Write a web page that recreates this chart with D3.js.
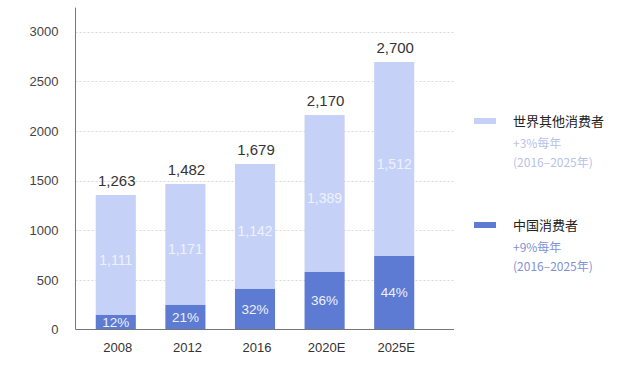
<!DOCTYPE html>
<html><head><meta charset="utf-8">
<script src="https://cdn.jsdelivr.net/npm/d3@7"></script>
<style>
html,body{margin:0;padding:0;background:#fff;}
svg{display:block;font-family:"Liberation Sans",Arial,"Noto Sans CJK SC",sans-serif;}
</style></head>
<body>
<svg id="c" width="640" height="376"></svg>
<script>
// Data
const categories = ["2008", "2012", "2016", "2020E", "2025E"];
// bar heights as drawn in the picture
const chinaValues = [146, 247, 408, 579, 740];
const restValues = [1208, 1218, 1258, 1580, 1953];
// printed labels
const totalLabels = ["1,263", "1,482", "1,679", "2,170", "2,700"];
const restLabels = ["1,111", "1,171", "1,142", "1,389", "1,512"];
const shareLabels = ["12%", "21%", "32%", "36%", "44%"];
const yTicks = [0, 500, 1000, 1500, 2000, 2500, 3000];
const legendItems = [
  {name: "世界其他消费者", growth: "+3%每年", period: "(2016–2025年)"},
  {name: "中国消费者", growth: "+9%每年", period: "(2016–2025年)"}
];

const colRest = "#c6d1f7", colChina = "#5d7bd2";
const svg = d3.select("#c");

const y = d3.scaleLinear().domain([0, 3000]).range([329.5, 31.5]);
const x = d3.scaleBand().domain(categories).range([81, 429]).paddingInner(0.424).paddingOuter(0.212);
const xLeft = 75.5, xRight = 454;

// gridlines
svg.append("g").selectAll("line").data(yTicks.filter(d => d > 0)).join("line")
  .attr("x1", xLeft).attr("x2", xRight)
  .attr("y1", d => Math.round(y(d)) + 0.5).attr("y2", d => Math.round(y(d)) + 0.5)
  .attr("stroke", "#d9d9d9").attr("stroke-width", 1).attr("stroke-dasharray", "2,2");

// y axis
const yAxis = d3.axisLeft(y).tickValues(yTicks).tickSize(0).tickPadding(17).tickFormat(d3.format("d"));
const gy = svg.append("g").attr("transform", `translate(${xLeft},0)`).call(yAxis);
gy.select(".domain").remove();
gy.selectAll("text").attr("font-size", 13).attr("fill", "#444").attr("font-family", "Liberation Sans, Arial, sans-serif");
svg.append("line").attr("x1", xLeft).attr("x2", xLeft).attr("y1", y(3240)).attr("y2", y(0))
  .attr("stroke", "#777").attr("stroke-width", 1);

// bars
const rows = categories.map((c, i) => ({c, i, china: chinaValues[i], rest: restValues[i]}));
svg.append("g").selectAll("rect").data(rows).join("rect")
  .attr("x", d => x(d.c)).attr("width", x.bandwidth())
  .attr("y", d => y(d.china + d.rest)).attr("height", d => y(d.china) - y(d.china + d.rest))
  .attr("fill", colRest);
svg.append("g").selectAll("rect").data(rows).join("rect")
  .attr("x", d => x(d.c)).attr("width", x.bandwidth())
  .attr("y", d => y(d.china)).attr("height", d => y(0) - y(d.china))
  .attr("fill", colChina);

// baseline
svg.append("line").attr("x1", xLeft).attr("x2", xRight).attr("y1", y(0)).attr("y2", y(0))
  .attr("stroke", "#777").attr("stroke-width", 1);

// x axis labels
const xAxis = d3.axisBottom(x).tickSize(0).tickPadding(13);
const gx = svg.append("g").attr("transform", `translate(2,${y(0)})`).call(xAxis);
gx.select(".domain").remove();
gx.selectAll("text").attr("font-size", 13).attr("fill", "#333").attr("font-family", "Liberation Sans, Arial, sans-serif");

// total labels
svg.append("g").selectAll("text").data(rows).join("text")
  .attr("x", d => x(d.c) + x.bandwidth() / 2 + 1).attr("y", d => y(d.china + d.rest) - 9)
  .attr("text-anchor", "middle").attr("font-size", 15).attr("fill", "#333")
  .text(d => totalLabels[d.i]);

// rest labels
svg.append("g").selectAll("text").data(rows).join("text")
  .attr("x", d => x(d.c) + x.bandwidth() / 2).attr("y", d => y(d.china + d.rest / 2) + 5)
  .attr("dy", "0.35em").attr("text-anchor", "middle").attr("font-size", 14).attr("fill", "#eef1fd")
  .text(d => restLabels[d.i]);

// share labels
svg.append("g").selectAll("text").data(rows).join("text")
  .attr("x", d => x(d.c) + x.bandwidth() / 2).attr("y", d => y(d.china / 2))
  .attr("dy", "0.35em").attr("text-anchor", "middle").attr("font-size", 13.5).attr("fill", "#eef1fd")
  .text(d => shareLabels[d.i]);

// legend
const lg = svg.append("g");
const legendColors = [colRest, colChina];
const subColors = ["#b8c2ea", "#8193d2"];
const legendY = [121, 225];
legendItems.forEach((it, i) => {
  const g = lg.append("g").attr("transform", `translate(474,${legendY[i]})`);
  g.append("rect").attr("x", 0).attr("y", -3).attr("width", 22).attr("height", 6).attr("fill", legendColors[i]);
  g.append("text").attr("x", 39).attr("y", 0).attr("dy", "0.35em").attr("font-size", 13)
    .attr("fill", "#222").attr("font-family", "Noto Sans CJK SC, sans-serif").text(it.name);
  g.append("text").attr("x", 39).attr("y", 23).attr("dy", "0.35em").attr("font-size", 12)
    .attr("fill", subColors[i]).attr("font-family", "Noto Sans CJK SC, sans-serif").text(it.growth);
  g.append("text").attr("x", 39).attr("y", 42).attr("dy", "0.35em").attr("font-size", 12)
    .attr("fill", subColors[i]).attr("font-family", "Noto Sans CJK SC, sans-serif").text(it.period);
});
</script>
</body></html>
